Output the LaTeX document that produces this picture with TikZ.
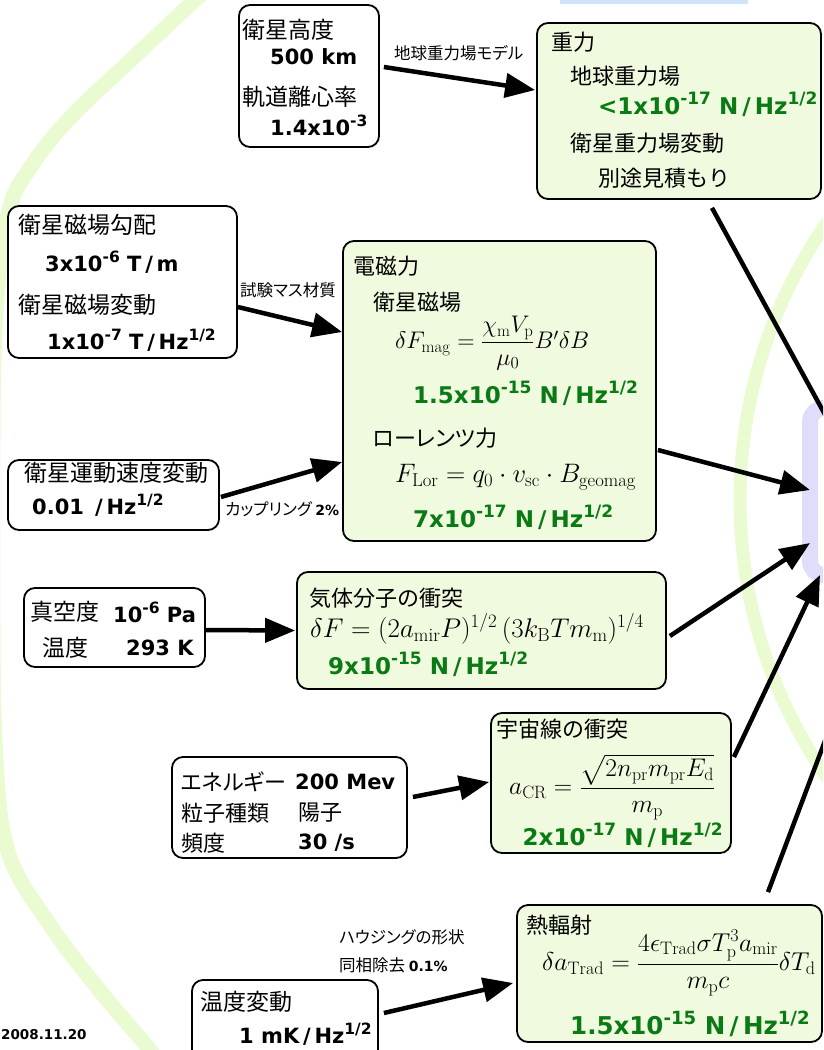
\RequirePackage{fix-cm}
\documentclass[tikz,border=0pt]{standalone}
\usepackage{fontspec}
\usepackage{amsmath}
\usepackage{graphicx}
\usetikzlibrary{arrows.meta,calc}
\newfontfamily\jp{Noto Sans CJK JP}
\newfontfamily\jpp[RawFeature=+palt]{Noto Sans CJK JP}
\newfontfamily\vd{DejaVu Sans}
\definecolor{boxgreen}{RGB}{239,250,222}
\definecolor{valgreen}{RGB}{10,122,20}
\definecolor{arcgreen}{RGB}{234,251,210}
\definecolor{lav}{RGB}{222,222,250}
\definecolor{topblue}{RGB}{205,228,250}
\newcommand\spr[1]{\raisebox{0.42em}{\scalebox{0.74}{#1}}}
\newcommand\sls{\kern0.18em/\kern0.18em}
\tikzset{
  wbox/.style={draw=black, line width=1.8pt, rounded corners=11pt, fill=white, inner sep=0pt},
  gbox/.style={draw=black, line width=1.8pt, rounded corners=11pt, fill=boxgreen, inner sep=0pt},
  tgtbox/.style={draw=lav, line width=16pt, rounded corners=14pt, inner sep=0pt},
  jpw/.style={font=\jp\fontsize{23}{27}\selectfont, anchor=west, inner sep=0pt},
  jpg/.style={font=\jp\fontsize{22}{26}\selectfont, anchor=west, inner sep=0pt},
  val/.style={font=\vd\bfseries\fontsize{21}{25}\selectfont, anchor=west, inner sep=0pt},
  gval/.style={font=\vd\bfseries\fontsize{23}{27}\selectfont, text=valgreen, anchor=west, inner sep=0pt},
  lbl/.style={font=\jpp\fontsize{16.5}{19}\selectfont, anchor=west, inner sep=0pt},
  fml/.style={anchor=west, inner sep=0pt},
  conn/.style={line width=4.5pt, -{Triangle[length=30pt,width=24pt]}},
  arc/.style={draw=arcgreen, line width=15pt}
}
\begin{document}
\begin{tikzpicture}[x=1pt,y=-1pt]
\useasboundingbox (0,0) rectangle (823,1050);
\fill[white] (0,0) rectangle (823,1050);
\clip (0,0) rectangle (823,1050);

% decorative arcs
\draw[arc] plot[smooth, tension=0.6] coordinates {(228,-30) (195,0) (133,58) (70,118) (30,168) (8,215) (-5,330) (-7,529) (-5,740) (8,851) (50,925) (100,991) (150,1050) (165,1072)};
\draw[arc, line width=13pt] (1226,500) circle[radius=486];
\fill[topblue] (560,0) rectangle (748,4);

% target (off to the right)
\node[tgtbox, minimum width=190pt, minimum height=167pt] (TGT) at (905,491.5) {};

% boxes
\node[wbox, minimum width=140pt, minimum height=142pt] (A) at (309,76) {};
\node[gbox, minimum width=284pt, minimum height=176pt] (G) at (679,111) {};
\node[wbox, minimum width=229pt, minimum height=152pt] (B) at (122.5,282) {};
\node[gbox, minimum width=313pt, minimum height=300pt] (EM) at (499.5,391) {};
\node[wbox, minimum width=211pt, minimum height=70pt] (C) at (113.5,495) {};
\node[wbox, minimum width=181pt, minimum height=79pt] (D) at (114.5,627.5) {};
\node[gbox, minimum width=369pt, minimum height=117pt] (GAS) at (481.5,630.5) {};
\node[wbox, minimum width=235pt, minimum height=101pt] (E) at (289.5,807.5) {};
\node[gbox, minimum width=240pt, minimum height=140pt] (CR) at (611,783) {};
\node[wbox, minimum width=186pt, minimum height=82pt] (T) at (285,1021) {};
\node[gbox, minimum width=305pt, minimum height=137pt] (TR) at (669.5,973.5) {};

% box A
\node[jpw] (a1) at (242,30) {衛星高度};
\node[val] (a2) at (270,57) {500 km};
\node[jpw] (a3) at (242,97) {軌道離心率};
\node[val] (a4) at (270,125) {1.4x10\spr{-3}};
% box G
\node[jpg] (g1) at (551,42) {重力};
\node[jpg] (g2) at (570,76) {地球重力場};
\node[gval] (g3) at (598,104) {<1x10\spr{-17} N\sls Hz\spr{1/2}};
\node[jpg] (g4) at (570,143) {衛星重力場変動};
\node[jpg] (g5) at (598,178) {別途見積もり};
% box B
\node[jpw] (b1) at (18,225) {衛星磁場勾配};
\node[val] (b2) at (45,262) {3x10\spr{-6} T\sls m};
\node[jpw] (b3) at (18,305) {衛星磁場変動};
\node[val] (b4) at (47,340) {1x10\spr{-7} T\sls Hz\spr{1/2}};
% box C
\node[jpw] (c1) at (24,473) {衛星運動速度変動};
\node[val] (c2) at (32,505) {0.01 \sls Hz\spr{1/2}};
% box EM
\node[jpg] (m1) at (353,266) {電磁力};
\node[jpg] (m2) at (373,302) {衛星磁場};
\node[fml, font=\fontsize{24}{28}\selectfont] (m3) at (395,343) {$\delta F_{\mathrm{mag}}=\dfrac{\chi_{\mathrm{m}}V_{\mathrm{p}}}{\mu_0}B'\delta B$};
\node[gval] (m4) at (413,393) {1.5x10\spr{-15} N\sls Hz\spr{1/2}};
\node[jpg, font=\jpp\fontsize{22}{26}\selectfont] (m5) at (373,438) {ローレンツ力};
\node[fml, font=\fontsize{26.7}{30}\selectfont] (m6) at (395,477) {$F_{\mathrm{Lor}}=q_0\cdot v_{\mathrm{sc}}\cdot B_{\mathrm{geomag}}$};
\node[gval] (m7) at (413,517) {7x10\spr{-17} N\sls Hz\spr{1/2}};
% box D
\node[jpw] (d1) at (30,612) {真空度};
\node[val] (d2) at (113,612) {10\spr{-6} Pa};
\node[jpw] (d3) at (42,648) {温度};
\node[val] (d4) at (126,648) {293 K};
% box GAS
\node[jpg] (s1) at (309,598) {気体分子の衝突};
\node[fml, font=\fontsize{27}{31}\selectfont] (s2) at (310,629) {$\delta F=(2a_{\mathrm{mir}}P)^{1/2}\,(3k_{\mathrm{B}}Tm_{\mathrm{m}})^{1/4}$};
\node[gval] (s3) at (328,664) {9x10\spr{-15} N\sls Hz\spr{1/2}};
% box E
\node[jpg, font=\jpp\fontsize{22}{26}\selectfont] (e1) at (181,782) {エネルギー};
\node[val] (e2) at (295,782) {200 Mev};
\node[jpg] (e3) at (181,813) {粒子種類};
\node[jpg] (e4) at (298,813) {陽子};
\node[jpg] (e5) at (181,843) {頻度};
\node[val] (e6) at (298,843) {30 /s};
% box CR
\node[jpg, anchor=base west, text depth=0pt] (r1) at (496,737) {宇宙線の衝突};
\node[fml, font=\fontsize{25.5}{29}\selectfont] (r2) at (509,787) {$a_{\mathrm{CR}}=\dfrac{\sqrt{2n_{\mathrm{pr}}m_{\mathrm{pr}}E_{\mathrm{d}}}}{m_{\mathrm{p}}}$};
\node[gval, anchor=east] (r3) at (723,835) {2x10\spr{-17} N\sls Hz\spr{1/2}};
% box T
\node[jpw] (u1) at (200,1002) {温度変動};
\node[val] (u2) at (239,1034) {1 mK\sls Hz\spr{1/2}};
% box TR
\node[jpg] (h1) at (526,925) {熱輻射};
\node[fml, font=\fontsize{25.8}{30}\selectfont] (h2) at (542,963) {$\delta a_{\mathrm{Trad}}=\dfrac{4\epsilon_{\mathrm{Trad}}\sigma T_{\mathrm{p}}^3a_{\mathrm{mir}}}{m_{\mathrm{p}}c}\delta T_{\mathrm{d}}$};
\node[gval, font=\vd\bfseries\fontsize{24.5}{28}\selectfont] (h3) at (570,1024) {1.5x10\spr{-15} N\sls Hz\spr{1/2}};

% connector labels
\node[lbl] (l1) at (394,53) {地球重力場モデル};
\node[lbl] (l2) at (240,290) {試験マス材質};
\node[lbl] (l3) at (225,509) {カップリング {\vd\bfseries\fontsize{14}{16}\selectfont 2\%}};
\node[lbl] (l4) at (339,937) {ハウジングの形状};
\node[lbl] (l5) at (339,965) {同相除去 {\vd\bfseries\fontsize{14}{16}\selectfont 0.1\%}};

% date
\node[font=\vd\bfseries\fontsize{13.5}{16}\selectfont, anchor=west, inner sep=0pt] (dt) at (1,1035) {2008.11.20};

% connectors
\draw[conn] ([shift={(4,-9)}]A.east) -- ([shift={(-1,-21)}]G.west);
\draw[conn] ([shift={(33,8)}]G.south) -- ([shift={(50,64)}]TGT.north west);
\draw[conn] ([shift={(0,25)}]B.east) -- ([shift={(0,-59)}]EM.west);
\draw[conn] ([shift={(1,2)}]C.east) -- ([shift={(0,71)}]EM.west);
\draw[conn] ([shift={(1,59)}]EM.east) -- ([shift={(8,-1.5)}]TGT.west);
\draw[conn] ([shift={(0,2.5)}]D.east) -- ([shift={(-1,0)}]GAS.west);
\draw[conn] ([shift={(3,5.5)}]GAS.east) -- ([shift={(8,51.5)}]TGT.west);
\draw[conn] ([shift={(5,-10.5)}]E.east) -- ([shift={(-1,-1)}]CR.west);
\draw[conn] ([shift={(2,-26)}]CR.east) -- ([shift={(18,-8)}]TGT.south west);
\draw[conn] ([shift={(5,-8)}]T.east) -- ([shift={(-3,9.5)}]TR.west);
\draw[conn] ([shift={(98.5,-12)}]TR.north) -- ([shift={(58,65)}]TGT.south west);
\end{tikzpicture}
\end{document}
